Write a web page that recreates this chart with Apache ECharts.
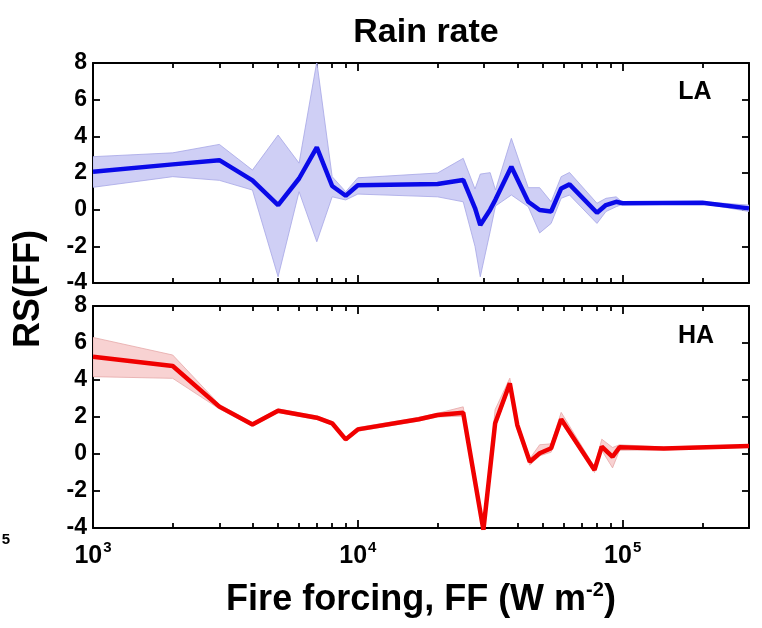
<!DOCTYPE html>
<html><head><meta charset="utf-8">
<script src="https://cdn.jsdelivr.net/npm/echarts@6/dist/echarts.min.js"></script>
<style>html,body{margin:0;padding:0;background:#fff}#c{width:762px;height:628px}</style>
</head><body><div id="c"></div>
<script>
// ---- data ----
const laX    = [1000, 2000, 3000, 4000, 5000, 6000, 7000, 8000, 9000, 10000, 20000, 25000, 27700, 29000, 31600, 33100, 38000, 44000, 48600, 53700, 58600, 63000, 80000, 86500, 94500, 100000, 200000, 300000];
const laMean = [2.07, 2.47, 2.70, 1.60, 0.25, 1.70, 3.40, 1.29, 0.76, 1.33, 1.40, 1.62, 0.09, -0.84, 0.00, 0.55, 2.34, 0.43, -0.02, -0.10, 1.16, 1.38, -0.17, 0.25, 0.43, 0.35, 0.38, 0.07];
const laLow  = [1.22, 1.80, 1.60, 1.07, -3.66, 0.98, -1.75, 0.70, 0.53, 0.85, 0.70, 0.43, -2.00, -3.66, -1.20, 0.20, 0.80, 0.16, -1.27, -0.75, 0.62, 0.80, -0.75, -0.10, 0.16, 0.30, 0.33, -0.10];
const laHigh = [2.89, 3.10, 3.56, 2.16, 4.07, 2.54, 8.07, 1.80, 0.98, 1.74, 2.00, 2.80, 1.13, 1.94, 2.02, 1.07, 3.89, 1.20, 1.20, 0.43, 1.80, 2.03, 0.35, 0.62, 0.70, 0.40, 0.43, 0.25];

const haX    = [1000, 2000, 3000, 4000, 5000, 7000, 8000, 9000, 10000, 17000, 20000, 25000, 29800, 33000, 37500, 40000, 44600, 48600, 53700, 58600, 78300, 83400, 91600, 97300, 143000, 300000];
const haMean = [5.26, 4.76, 2.56, 1.60, 2.34, 1.96, 1.66, 0.79, 1.33, 1.88, 2.11, 2.23, -4.10, 1.66, 3.82, 1.57, -0.42, 0.04, 0.31, 1.88, -0.86, 0.40, -0.15, 0.36, 0.30, 0.43];
const haLow  = [4.18, 4.09, 2.44, 1.50, 2.24, 1.86, 1.56, 0.69, 1.23, 1.78, 2.00, 2.05, -4.30, 1.45, 3.60, 1.30, -0.60, -0.10, 0.10, 1.70, -1.00, 0.20, -0.75, 0.20, 0.22, 0.36];
const haHigh = [6.30, 5.35, 2.68, 1.70, 2.44, 2.06, 1.76, 0.89, 1.43, 1.98, 2.20, 2.55, -3.90, 2.40, 4.10, 1.80, -0.25, 0.50, 0.55, 2.25, -0.70, 0.80, 0.35, 0.50, 0.38, 0.50];

const xMin = 1000, xMax = 300000, yMin = -4, yMax = 8, yStep = 2;
const titleText = 'Rain rate';
const xName = 'Fire forcing, FF (W m';
const yName = 'RS(FF)';
const panelNames = ['LA', 'HA'];

// ---- chart ----
const FONT = "'Liberation Sans', Arial, sans-serif";
const chart = echarts.init(document.getElementById('c'), null, {renderer: 'canvas'});

const grids = [
  {left: 93, top: 63, width: 656, height: 220, outerBoundsMode: 'none', containLabel: false},
  {left: 93, top: 306, width: 656, height: 222, outerBoundsMode: 'none', containLabel: false}
];

function xAxis(g, pos, labels) {
  return {
    type: 'log', logBase: 10, gridIndex: g, position: pos, min: xMin, max: xMax,
    axisLine: {show: true, onZero: false, lineStyle: {color: '#000', width: 2}},
    axisTick: {show: true, inside: true, length: 8, lineStyle: {color: '#000', width: 1.8}},
    minorTick: {show: true, splitNumber: 9, length: 5, lineStyle: {color: '#000', width: 1.8}},
    splitLine: {show: false}, minorSplitLine: {show: false},
    axisLabel: labels ? {
      show: true, showMaxLabel: false, margin: 12,
      formatter: v => '{a|10}{b|' + Math.round(Math.log10(v)) + '}',
      rich: {
        a: {fontSize: 25, fontWeight: 'bold', fontFamily: FONT, color: '#000'},
        b: {fontSize: 15, fontWeight: 'bold', fontFamily: FONT, color: '#000', padding: [0, 0, 18, 1]}
      }
    } : {show: false}
  };
}
function yAxis(g, pos, labels) {
  return {
    type: 'value', gridIndex: g, position: pos, min: yMin, max: yMax, interval: yStep,
    axisLine: {show: true, onZero: false, lineStyle: {color: '#000', width: 2}},
    axisTick: {show: true, inside: true, length: 7, lineStyle: {color: '#000', width: 1.8}},
    splitLine: {show: false},
    axisLabel: labels ? {show: true, margin: 6, fontSize: 23, fontWeight: 'bold', fontFamily: FONT, color: '#000'} : {show: false}
  };
}

function bandRender(fill, stroke) {
  return function (params, api) {
    if (params.dataIndexInside !== 0) return null;
    const n = params.dataInsideLength;
    const up = [], lo = [];
    for (let i = 0; i < n; i++) {
      up.push(api.coord([api.value(0, i), api.value(2, i)]));
      lo.push(api.coord([api.value(0, i), api.value(1, i)]));
    }
    return {type: 'polygon', shape: {points: up.concat(lo.reverse())},
            style: {fill: fill, stroke: stroke, lineWidth: 0.8}};
  };
}

const bandData = (x, lo, hi) => x.map((v, i) => [v, lo[i], hi[i]]);
const lineData = (x, m) => x.map((v, i) => [v, m[i]]);

const series = [
  {type: 'custom', xAxisIndex: 0, yAxisIndex: 0, clip: true, renderItem: bandRender('#cfcff5', '#a6a6e6'),
   data: bandData(laX, laLow, laHigh), z: 1, silent: true},
  {type: 'line', xAxisIndex: 0, yAxisIndex: 0, data: lineData(laX, laMean), showSymbol: false,
   lineStyle: {color: '#0a0ae8', width: 4.5}, z: 3, silent: true},
  {type: 'custom', xAxisIndex: 2, yAxisIndex: 2, clip: true, renderItem: bandRender('#f8d2d2', '#e6a8a8'),
   data: bandData(haX, haLow, haHigh), z: 1, silent: true},
  {type: 'line', xAxisIndex: 2, yAxisIndex: 2, data: lineData(haX, haMean), showSymbol: false,
   lineStyle: {color: '#f00000', width: 4.5}, z: 3, silent: true}
];

chart.setOption({
  animation: false,
  backgroundColor: '#fff',
  title: {text: titleText, left: 421, top: 11, textAlign: 'center',
          textStyle: {fontSize: 34, fontWeight: 'bold', fontFamily: FONT, color: '#000'}},
  grid: grids,
  xAxis: [xAxis(0, 'bottom', false), xAxis(0, 'top', false), xAxis(1, 'bottom', true), xAxis(1, 'top', false)],
  yAxis: [yAxis(0, 'left', true), yAxis(0, 'right', false), yAxis(1, 'left', true), yAxis(1, 'right', false)],
  series: series,
  graphic: [
    {type: 'text', x: 29, y: 289, rotation: Math.PI / 2,
     style: {text: yName, font: 'bold 36px ' + FONT, fill: '#000', align: 'center', verticalAlign: 'middle'}},
    {type: 'text', x: 421, y: 600,
     style: {text: '{m|' + xName + '}{s|-2}{m|)}', align: 'center', verticalAlign: 'middle',
             rich: {m: {fontSize: 36, fontWeight: 'bold', fontFamily: FONT, fill: '#000'},
                    s: {fontSize: 20, fontWeight: 'bold', fontFamily: FONT, fill: '#000', padding: [0, 0, 20, 0]}}}},
    {type: 'text', x: 695, y: 92,
     style: {text: panelNames[0], font: 'bold 25px ' + FONT, fill: '#000', align: 'center', verticalAlign: 'middle'}},
    {type: 'text', x: 696, y: 336,
     style: {text: panelNames[1], font: 'bold 25px ' + FONT, fill: '#000', align: 'center', verticalAlign: 'middle'}},
    {type: 'text', x: 6, y: 540,
     style: {text: '5', font: 'bold 15px ' + FONT, fill: '#000', align: 'center', verticalAlign: 'middle'}}
  ]
});
</script>
</body></html>
